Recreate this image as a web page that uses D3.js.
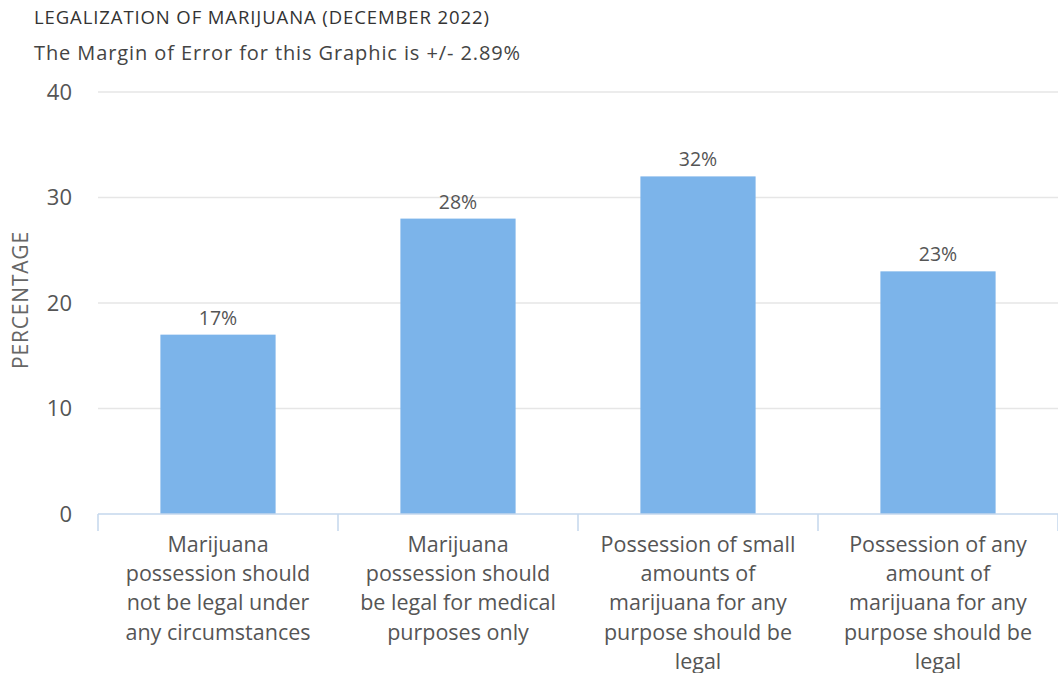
<!DOCTYPE html>
<html>
<head>
<meta charset="utf-8">
<script src="https://cdn.jsdelivr.net/npm/d3@7"></script>
<style>
  body { margin: 0; background: #fff; }
  text { font-family: "Open Sans", sans-serif; }
</style>
</head>
<body>
<div id="canvas"></div>
<script>
"use strict"

// data
let categories = [
  ["Marijuana", "possession should", "not be legal under", "any circumstances"],
  ["Marijuana", "possession should", "be legal for medical", "purposes only"],
  ["Possession of small", "amounts of", "marijuana for any", "purpose should be", "legal"],
  ["Possession of any", "amount of", "marijuana for any", "purpose should be", "legal"]
];
let values = [17, 28, 32, 23];
let yTicks = [0, 10, 20, 30, 40];

let width = 1058;
let height = 673;

let plotLeft = 98;    // plot left edge
let plotRight = 1058; // plot right edge (cut off in the picture)
let plotTop = 92;     // y=40
let plotBottom = 514; // y=0

let drawing = d3.select("#canvas")
    .append("svg")
    .attr("width", width)
    .attr("height", height);

let x = d3.scaleBand()
    .domain(d3.range(categories.length))
    .range([plotLeft, plotRight])
    .paddingInner(0.52)
    .paddingOuter(0.26);

let y = d3.scaleLinear()
    .domain([0, 40])
    .range([plotBottom, plotTop]);

/* titles */
drawing.append("text")
    .attr("x", 34)
    .attr("y", 24)
    .attr("font-size", 18.5)
    .attr("fill", "#333")
    .attr("letter-spacing", 0.9)
    .text("LEGALIZATION OF MARIJUANA (DECEMBER 2022)");

drawing.append("text")
    .attr("x", 34)
    .attr("y", 60)
    .attr("font-size", 20)
    .attr("fill", "#444")
    .attr("letter-spacing", 0.9)
    .text("The Margin of Error for this Graphic is +/- 2.89%");

/* gridlines */
drawing.append("g")
    .selectAll("line")
    .data(yTicks.filter(d => d > 0))
    .join("line")
    .attr("x1", plotLeft)
    .attr("x2", plotRight)
    .attr("y1", d => y(d))
    .attr("y2", d => y(d))
    .attr("stroke", "#e6e6e6")
    .attr("stroke-width", 1.5);

/* y axis tick labels */
let yAxis = drawing.append("g")
    .attr("transform", "translate(" + 72 + ",0)")
    .call(d3.axisLeft(y).tickValues(yTicks).tickSize(0).tickPadding(0));
yAxis.select(".domain").remove();
yAxis.selectAll("text")
    .attr("font-family", "Open Sans, sans-serif")
    .attr("font-size", 22)
    .attr("fill", "#555");

/* y axis title */
drawing.append("text")
    .attr("transform", "translate(28," + 300 + ") rotate(-90)")
    .attr("text-anchor", "middle")
    .attr("font-size", 21)
    .attr("letter-spacing", 0.8)
    .attr("fill", "#666")
    .text("PERCENTAGE");

/* bars */
drawing.append("g")
    .selectAll("rect")
    .data(values)
    .join("rect")
    .attr("x", (d, i) => x(i))
    .attr("y", d => y(d))
    .attr("width", x.bandwidth())
    .attr("height", d => y(0) - y(d))
    .attr("fill", "#7cb4ea");

/* value labels */
drawing.append("g")
    .selectAll("text")
    .data(values)
    .join("text")
    .attr("x", (d, i) => x(i) + x.bandwidth() / 2)
    .attr("y", d => y(d) - 10)
    .attr("text-anchor", "middle")
    .attr("font-size", 19.5)
    .attr("fill", "#555")
    .text(d => d + "%");

/* x axis line and ticks between categories */
let step = x.step();
let boundaries = d3.range(categories.length + 1).map(i => plotLeft + i * step);

drawing.append("line")
    .attr("x1", plotLeft)
    .attr("x2", plotRight)
    .attr("y1", plotBottom)
    .attr("y2", plotBottom)
    .attr("stroke", "#c5d7ec")
    .attr("stroke-width", 1.5);

drawing.append("g")
    .selectAll("line")
    .data(boundaries)
    .join("line")
    .attr("x1", d => d)
    .attr("x2", d => d)
    .attr("y1", plotBottom)
    .attr("y2", plotBottom + 17)
    .attr("stroke", "#c5d7ec")
    .attr("stroke-width", 1.5);

/* category labels */
let catLabels = drawing.append("g")
    .selectAll("text")
    .data(categories)
    .join("text")
    .attr("text-anchor", "middle")
    .attr("font-size", 21.5)
    .attr("fill", "#555");

catLabels.selectAll("tspan")
    .data((d, i) => d.map(line => ({ line: line, i: i })))
    .join("tspan")
    .attr("x", d => x(d.i) + x.bandwidth() / 2)
    .attr("y", (d, j) => 552 + j * 29.2)
    .text(d => d.line);
</script>
</body>
</html>
